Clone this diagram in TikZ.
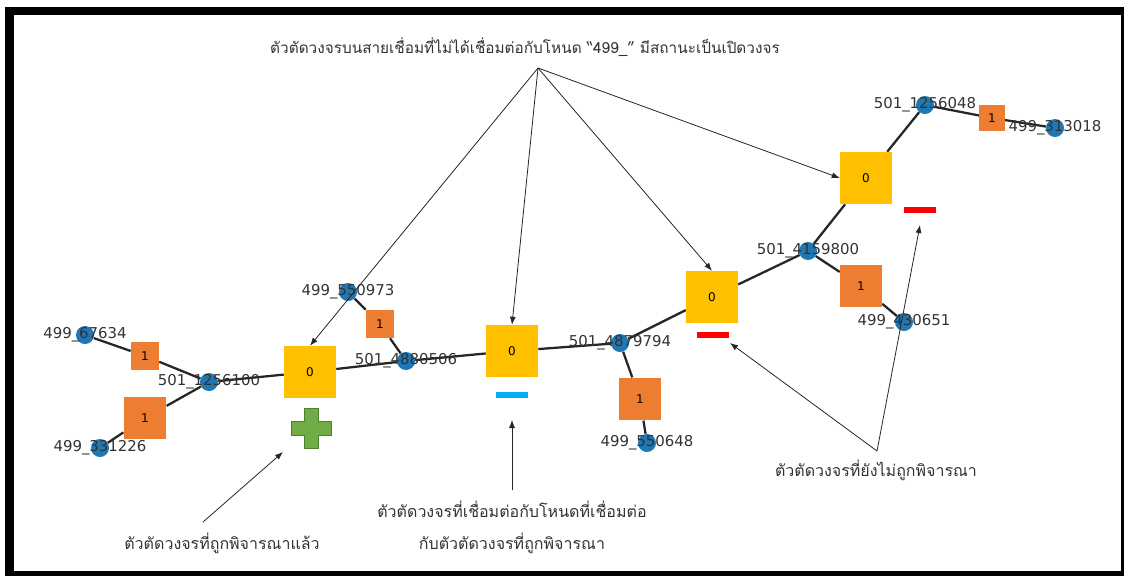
\documentclass[tikz,border=0pt]{standalone}
\usepackage{fontspec}
\setmainfont{DejaVu Sans}
\newfontfamily\thaifont[Script=Thai]{Loma}
\usepackage{xcolor}
\usetikzlibrary{arrows.meta}
\usetikzlibrary{calc}
\usetikzlibrary{backgrounds}

\definecolor{nodeblue}{HTML}{1F77B4}
\definecolor{boxorange}{HTML}{ED7D31}
\definecolor{boxyellow}{HTML}{FFC000}
\definecolor{plusgreen}{HTML}{70AD47}
\definecolor{plusedge}{HTML}{507E32}
\definecolor{dashcyan}{HTML}{00B0F0}
\definecolor{labelgray}{HTML}{333333}

\tikzset{
  vtx/.style={circle,fill=nodeblue,inner sep=0pt,minimum size=13.5pt},
  lbl/.style={text=labelgray,font=\fontsize{11.2}{13}\selectfont,inner sep=0pt},
  swopen/.style={rectangle,fill=boxyellow,inner sep=0pt,minimum size=39pt,font=\fontsize{9}{10}\selectfont},
  swclosed/.style={rectangle,fill=boxorange,inner sep=0pt,font=\fontsize{9}{10}\selectfont},
  bar/.style={rectangle,inner sep=0pt,minimum width=24pt,minimum height=4.5pt},
  edge/.style={line width=1.7pt,black!85},
  note/.style={font=\thaifont\fontsize{12}{24}\selectfont,text=black!80,align=center},
  pointer/.style={-{Latex[length=6pt,width=4.5pt]},line width=0.6pt,black!85}
}

\begin{document}
\begin{tikzpicture}[x=0.75pt,y=-0.75pt]
\useasboundingbox (0,0) rectangle (1124,576);

% buses
\node[vtx,label={[lbl]center:499\_67634}] (n67634) at (85,335) {};
\node[vtx,label={[lbl]center:501\_1256100}] (n1256100) at (209,382) {};
\node[vtx,label={[lbl]center:499\_331226}] (n331226) at (100,448) {};
\node[vtx,label={[lbl]center:499\_550973}] (n550973) at (348,292) {};
\node[vtx,label={[lbl]center:501\_4880506}] (n4880506) at (406,361) {};
\node[vtx,label={[lbl]center:501\_4879794}] (n4879794) at (620,343) {};
\node[vtx,label={[lbl]center:499\_550648}] (n550648) at (647,443) {};
\node[vtx,label={[lbl]center:501\_4159800}] (n4159800) at (808,251) {};
\node[vtx,label={[lbl]center:499\_430651}] (n430651) at (904,322) {};
\node[vtx,label={[lbl]center:501\_1256048}] (n1256048) at (925,105) {};
\node[vtx,label={[lbl]center:499\_313018}] (n313018) at (1055,128) {};

% closed switches
\node[swclosed,minimum size=21pt] (c1) at (145,356) {1};
\node[swclosed,minimum size=32pt] (c2) at (145,418) {1};
\node[swclosed,minimum size=21pt] (c3) at (380,324) {1};
\node[swclosed,minimum size=32pt] (c4) at (640,399) {1};
\node[swclosed,minimum size=31.5pt] (c5) at (861,286) {1};
\node[swclosed,minimum size=19pt] (c6) at (992,118) {1};

% open switches
\node[swopen] (yL) at (310,372) {0};
\node[swopen] (yC) at (512,351) {0};
\node[swopen] (yM) at (712,297) {0};
\node[swopen] (yR) at (866,178) {0};

% state marks
\node[bar,fill=dashcyan] (bC) at (512,395) {};
\node[bar,fill=red] (bM) at (713,335) {};
\node[bar,fill=red] (bR) at (920,210) {};
\coordinate (plus) at (311,428);
\filldraw[fill=plusgreen,draw=plusedge,line width=0.5pt]
  ($(plus)+(-7,-20)$) -- ++(14,0) -- ++(0,13) -- ++(13,0) -- ++(0,14) -- ++(-13,0)
  -- ++(0,13) -- ++(-14,0) -- ++(0,-13) -- ++(-13,0) -- ++(0,-14) -- ++(13,0) -- cycle;

% notes
\node[note,font=\thaifont\fontsize{11.5}{24}\selectfont] (toptext) at (525,47) {ตัวตัดวงจรบนสายเชื่อมที่ไม่ได้เชื่อมต่อกับโหนด “499\_” มีสถานะเป็นเปิดวงจร};
\node[note] (donetext) at (222,543) {ตัวตัดวงจรที่ถูกพิจารณาแล้ว};
\node[note] (linktext) at (512,527) {ตัวตัดวงจรที่เชื่อมต่อกับโหนดที่เชื่อมต่อ\\กับตัวตัดวงจรที่ถูกพิจารณา};
\node[note] (pendtext) at (876,470) {ตัวตัดวงจรที่ยังไม่ถูกพิจารณา};

\coordinate (apex) at (538,68);
\coordinate (donetail) at (203,522);
\coordinate (donetip) at (283,452);
\coordinate (linktail) at (512,490);
\coordinate (linktip) at (512,420);
\coordinate (pendtail) at (877,451);
\coordinate (pendtipM) at (730,343);
\coordinate (pendtipR) at (920,225);

\draw[pointer] (apex) -- (yL.north);
\draw[pointer] (apex) -- (yC.north);
\draw[pointer] (apex) -- (yM.north);
\draw[pointer] (apex) -- (yR.west);
\draw[pointer] (donetail) -- (donetip);
\draw[pointer] (linktail) -- (linktip);
\draw[pointer] (pendtail) -- (pendtipM);
\draw[pointer] (pendtail) -- (pendtipR);

\begin{pgfonlayer}{background}
\fill[black] (5,7) rectangle (1124,576);
\fill[white] (14,15) rectangle (1121,571);
\draw[edge] (n67634) -- (c1) -- (n1256100);
\draw[edge] (n331226) -- (c2) -- (n1256100);
\draw[edge] (n1256100) -- (yL) -- (n4880506);
\draw[edge] (n550973) -- (c3) -- (n4880506);
\draw[edge] (n4880506) -- (yC) -- (n4879794);
\draw[edge] (n4879794) -- (c4) -- (n550648);
\draw[edge] (n4879794) -- (yM) -- (n4159800);
\draw[edge] (n4159800) -- (c5) -- (n430651);
\draw[edge] (n4159800) -- (yR) -- (n1256048);
\draw[edge] (n1256048) -- (c6) -- (n313018);
\end{pgfonlayer}

\end{tikzpicture}
\end{document}
